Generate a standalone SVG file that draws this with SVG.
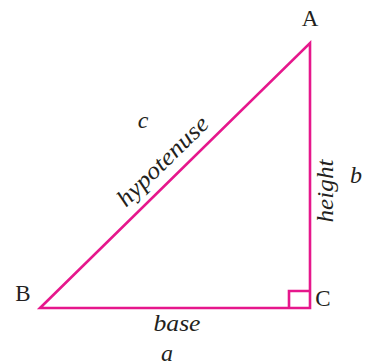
<svg xmlns="http://www.w3.org/2000/svg" width="368" height="364" viewBox="0 0 368 364">
<style>
.edge{fill:none;stroke:#e6178c;stroke-width:2.6;stroke-linejoin:miter}
.t{font-family:"Liberation Serif",serif;font-size:23px;fill:#231f20}
.i{font-style:italic;font-size:24px}
</style>
<rect width="368" height="364" fill="#ffffff"/>
<g id="connectors">
<path class="edge" d="M310,43 L310,308 L40,308 Z"/>
<path class="edge" d="M289,308 L289,291 L310,291" stroke-width="2.2"/>
</g>
<g id="A"><text class="t" x="310" y="26" text-anchor="middle">A</text></g>
<g id="B"><text class="t" x="23" y="301" text-anchor="middle">B</text></g>
<g id="C"><text class="t" x="323" y="306" text-anchor="middle">C</text></g>
<g id="hyp">
<text class="t i" x="143" y="128" text-anchor="middle">c</text>
<text class="t i" transform="translate(168.2,166.7) rotate(-44.46)" text-anchor="middle" textLength="118" lengthAdjust="spacingAndGlyphs">hypotenuse</text>
</g>
<g id="height">
<text class="t i" transform="translate(333,191) rotate(-90)" text-anchor="middle" textLength="63" lengthAdjust="spacingAndGlyphs">height</text>
<text class="t i" x="356" y="183" text-anchor="middle">b</text>
</g>
<g id="base">
<text class="t i" x="177" y="331" text-anchor="middle" textLength="47" lengthAdjust="spacingAndGlyphs">base</text>
<text class="t i" x="167" y="360.5" text-anchor="middle">a</text>
</g>
</svg>
